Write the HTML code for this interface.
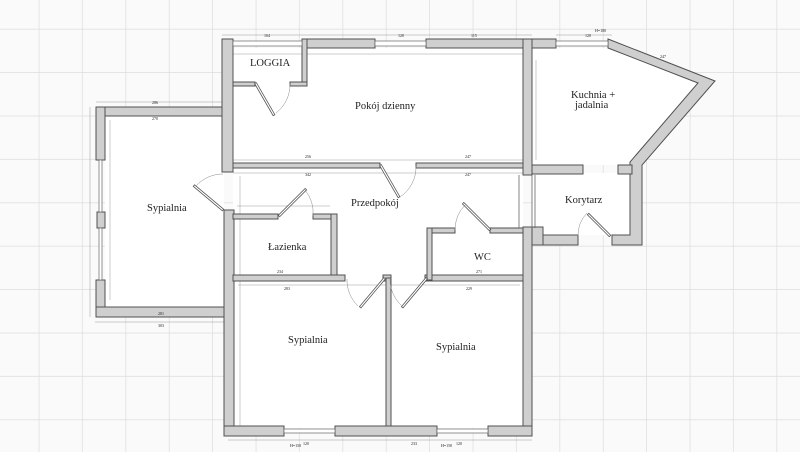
<!DOCTYPE html>
<html><head><meta charset="utf-8"><style>
html,body{margin:0;padding:0;background:#fafafa;}
svg{display:block}
text{font-family:"Liberation Serif","DejaVu Serif",serif;fill:#222}
.d{font-family:"Liberation Sans",sans-serif;font-size:4px;fill:#333}
.w{fill:#cfcfcf;stroke:#505050;stroke-width:1}
.dl{stroke:#999;stroke-width:.5;fill:none}
.win{fill:#fff;stroke:#666;stroke-width:.7}
.door{fill:#fff;stroke:#555;stroke-width:.8}
.arc{fill:none;stroke:#888;stroke-width:.5}
</style></head><body>
<svg width="800" height="452" viewBox="0 0 800 452" xmlns="http://www.w3.org/2000/svg">
<defs>
<pattern id="g" x="-4" y="-13.8" width="43.4" height="43.4" patternUnits="userSpaceOnUse">
<path d="M43.4 0V43.4M0 43.4H43.4" stroke="#dcdcdc" stroke-width="1.4" fill="none"/>
</pattern>
</defs>
<rect width="800" height="452" fill="#fafafa"/>
<rect width="800" height="452" fill="url(#g)"/>
<g fill="#fff">
<rect x="233" y="48" width="290" height="120"/>
<rect x="105" y="116" width="119" height="192"/>
<rect x="233" y="168" width="290" height="260"/>
<polygon points="532,48 610,48 698,83 630,165 532,165"/>
<rect x="532" y="173" width="98" height="62"/>
</g>
<g class="dl">
<path d="M222 35H532M556 35H612M96 102H222M233 54H523M233 160H523M233 173H523M240 176V436M95 322H227M228 440H532M90 107V317M237 206H330M238 285H520M536 60V160M110 120V300"/>
</g>
<g class="w">
<rect x="222" y="39" width="11" height="9"/>
<rect x="302" y="39" width="73" height="9"/>
<rect x="426" y="39" width="130" height="9"/>
<rect x="302" y="39" width="5" height="47"/>
<rect x="233" y="82" width="22" height="4"/>
<rect x="290" y="82" width="17" height="4"/>
<rect x="222" y="39" width="11" height="133"/>
<rect x="233" y="163" width="147" height="5"/>
<rect x="416" y="163" width="107" height="5"/>
<rect x="523" y="39" width="9" height="136"/>
<rect x="523" y="227" width="9" height="209"/>
<polygon points="608,39 715,81 642,165 642,245 612,245 612,235 630,235 630,162 698,83 608,48"/>
<rect x="532" y="165" width="51" height="9"/>
<rect x="618" y="165" width="14" height="9"/>
<rect x="543" y="235" width="35" height="10"/>
<rect x="532" y="227" width="11" height="18"/>
<rect x="96" y="107" width="126" height="9"/>
<rect x="96" y="107" width="9" height="53"/>
<rect x="97" y="212" width="8" height="16"/>
<rect x="96" y="280" width="9" height="37"/>
<rect x="96" y="307" width="131" height="10"/>
<rect x="224" y="210" width="10" height="226"/>
<rect x="233" y="214" width="45" height="5"/>
<rect x="313" y="214" width="24" height="5"/>
<rect x="331" y="214" width="6" height="66"/>
<rect x="233" y="275" width="112" height="6"/>
<rect x="383" y="275" width="8" height="6"/>
<rect x="425" y="275" width="98" height="6"/>
<rect x="427" y="228" width="28" height="5"/>
<rect x="490" y="228" width="33" height="5"/>
<rect x="427" y="228" width="5" height="52"/>
<rect x="386" y="278" width="5" height="150"/>
<rect x="224" y="426" width="60" height="10"/>
<rect x="335" y="426" width="102" height="10"/>
<rect x="488" y="426" width="44" height="10"/>
</g>
<path d="M519 175V228M532 175V228M535 175V228" stroke="#666" stroke-width=".8"/>
<g class="win">
<rect x="233" y="41" width="69" height="5"/>
<rect x="375" y="41" width="51" height="5"/>
<rect x="556" y="41" width="52" height="5"/>
<rect x="99" y="160" width="3" height="52"/>
<rect x="99" y="228" width="3" height="52"/>
<rect x="284" y="429" width="51" height="4"/>
<rect x="437" y="429" width="51" height="4"/>
</g>
<g class="door">
<rect x="255" y="83" width="2" height="37" transform="rotate(-30 256 84)"/>
<rect x="380" y="165" width="2" height="37" transform="rotate(-30 381 166)"/>
<rect x="222" y="172" width="2" height="38" transform="rotate(-50 223 210)"/>
<rect x="278" y="178" width="2" height="38" transform="rotate(45 279 216)"/>
<rect x="489" y="192" width="2" height="38" transform="rotate(-45 490 230)"/>
<rect x="383" y="278" width="2" height="38" transform="rotate(40 384 279)"/>
<rect x="425" y="278" width="2" height="38" transform="rotate(40 426 279)"/>
<rect x="609" y="205" width="2" height="31" transform="rotate(-45 610 236)"/>
</g>
<g class="arc">
<path d="M290 84A36 36 0 0 1 276 113"/>
<path d="M416 166A36 36 0 0 1 400 197"/>
<path d="M223 174A36 36 0 0 0 196 186"/>
<path d="M313 216A36 36 0 0 0 305 190"/>
<path d="M455 230A36 36 0 0 1 465 205"/>
<path d="M347 279A36 36 0 0 0 358 306"/>
<path d="M390 279A36 36 0 0 0 402 306"/>
<path d="M578 236A32 32 0 0 1 587 213"/>
</g>
<g font-size="10.5">
<text x="250" y="66">LOGGIA</text>
<text x="355" y="109">Pokój dzienny</text>
<text x="571" y="98">Kuchnia +</text>
<text x="575" y="108">jadalnia</text>
<text x="565" y="203">Korytarz</text>
<text x="351" y="206">Przedpokój</text>
<text x="147" y="211">Sypialnia</text>
<text x="268" y="250">Łazienka</text>
<text x="474" y="260">WC</text>
<text x="288" y="343">Sypialnia</text>
<text x="436" y="350">Sypialnia</text>
</g>
<g class="d">
<text x="264" y="37">104</text><text x="398" y="37">120</text><text x="471" y="37">115</text>
<text x="585" y="37">120</text><text x="660" y="58">247</text><text x="152" y="104">286</text>
<text x="152" y="120">270</text><text x="305" y="158">256</text><text x="465" y="158">247</text>
<text x="305" y="176">342</text><text x="465" y="176">247</text><text x="284" y="290">283</text>
<text x="466" y="290">229</text><text x="158" y="315">281</text><text x="158" y="327">303</text>
<text x="303" y="445">120</text><text x="411" y="445">233</text><text x="456" y="445">120</text>
<text x="277" y="273">234</text><text x="476" y="273">271</text><text x="595" y="32" fill="#3366cc">H=180</text>
<text x="290" y="447" fill="#3366cc">H=150</text><text x="441" y="447" fill="#3366cc">H=150</text>
</g>
</svg>
</body></html>
